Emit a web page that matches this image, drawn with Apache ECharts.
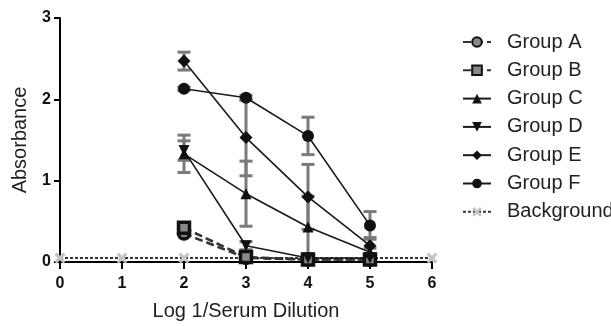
<!DOCTYPE html>
<html><head><meta charset="utf-8">
<script src="https://cdn.jsdelivr.net/npm/echarts@6/dist/echarts.min.js"></script>
<style>html,body{margin:0;padding:0;background:#fff}#c{width:611px;height:326px}</style>
</head><body><div id="c"></div>
<script>
const xTicks = [0, 1, 2, 3, 4, 5, 6];
const xGroups = [2, 3, 4, 5];
const groupA = [0.35, 0.05, 0.03, 0.03];
const groupB = [0.42, 0.06, 0.03, 0.03];
const groupC = [1.33, 0.84, 0.43, 0.12];
const groupD = [1.37, 0.20, 0.05, 0.05];
const groupE = [2.47, 1.53, 0.80, 0.20];
const groupF = [2.13, 2.02, 1.55, 0.45];
const errC = [0.23, 0.40, 0.38, 0.05];
const errD = [0.12, 0.05, 0.01, 0.01];
const errE = [0.11, 0.47, 0.40, 0.10];
const errF = [0.02, 0.03, 0.23, 0.17];
const background = [0.05, 0.05, 0.05, 0.05, 0.05, 0.05, 0.05];
const legendNames = ['Group A', 'Group B', 'Group C', 'Group D', 'Group E', 'Group F', 'Background'];

const pairs = (xs, ys) => xs.map((x, i) => [x, ys[i]]);
const errData = [];
[[groupC, errC], [groupD, errD], [groupE, errE], [groupF, errF]].forEach(([v, e]) => {
  xGroups.forEach((x, i) => errData.push([x, v[i] - e[i], v[i] + e[i]]));
});

const xPath = 'path://M2,0 L5,3 L8,0 L10,2 L7,5 L10,8 L8,10 L5,7 L2,10 L0,8 L3,5 L0,2 Z';

function lineSeries(name, data, symbol, opts) {
  return Object.assign({
    name, type: 'line', data: pairs(xGroups, data), symbol, symbolSize: 11,
    lineStyle: { color: '#1a1a1a', width: 1.6 },
    itemStyle: { color: '#111' }, z: 5
  }, opts || {});
}

const chart = echarts.init(document.getElementById('c'));
chart.setOption({
  animation: false,
  grid: { left: 60, right: 179, top: 18, bottom: 59, containLabel: false },
  xAxis: {
    type: 'value', min: 0, max: 6, interval: 1,
    name: 'Log 1/Serum Dilution', nameLocation: 'middle', nameGap: 39,
    nameTextStyle: { fontFamily: 'Liberation Sans', fontSize: 20, color: '#222' },
    axisLine: { lineStyle: { color: '#000', width: 2 } },
    axisTick: { show: true, length: 7, lineStyle: { color: '#000', width: 2 } },
    axisLabel: { fontFamily: 'Liberation Sans', fontSize: 16, fontWeight: 'bold', color: '#111', margin: 14 },
    splitLine: { show: false }
  },
  yAxis: {
    type: 'value', min: 0, max: 3, interval: 1,
    name: 'Absorbance', nameLocation: 'middle', nameGap: 30, nameRotate: 90,
    nameTextStyle: { fontFamily: 'Liberation Sans', fontSize: 20, color: '#222' },
    axisLine: { show: true, lineStyle: { color: '#000', width: 2 } },
    axisTick: { show: true, length: 6, lineStyle: { color: '#000', width: 2 } },
    axisLabel: { fontFamily: 'Liberation Sans', fontSize: 16, fontWeight: 'bold', color: '#111', margin: 9 },
    splitLine: { show: false }
  },
  legend: {
    orient: 'vertical', left: 457, top: 27, itemWidth: 28, itemHeight: 12, itemGap: 8.3,
    data: legendNames,
    textStyle: { fontFamily: 'Liberation Sans', fontSize: 20, color: '#222', lineHeight: 20, padding: [0, 0, 0, 11] }
  },
  series: [
    {
      name: 'err', type: 'custom', data: errData, z: 2, silent: true,
      renderItem: function (params, api) {
        const x = api.value(0);
        const lo = api.coord([x, api.value(1)]);
        const hi = api.coord([x, api.value(2)]);
        const w = 6.5;
        const st = { stroke: '#7a7a7a', lineWidth: 3 };
        return {
          type: 'group', children: [
            { type: 'line', shape: { x1: lo[0], y1: lo[1], x2: hi[0], y2: hi[1] }, style: st },
            { type: 'line', shape: { x1: lo[0] - w, y1: lo[1], x2: lo[0] + w, y2: lo[1] }, style: st },
            { type: 'line', shape: { x1: hi[0] - w, y1: hi[1], x2: hi[0] + w, y2: hi[1] }, style: st }
          ]
        };
      }
    },
    {
      name: 'Background', type: 'line', data: pairs(xTicks, background), symbol: xPath, symbolSize: 11,
      lineStyle: { color: '#333', width: 2, type: [3, 2] },
      itemStyle: { color: '#c4c4c4' }, z: 3
    },
    lineSeries('Group A', groupA, 'circle', {
      lineStyle: { color: '#333', width: 2.6, type: [8, 4] },
      itemStyle: { color: '#888', borderColor: '#111', borderWidth: 3.5 }
    }),
    lineSeries('Group B', groupB, 'rect', {
      lineStyle: { color: '#333', width: 2.6, type: [8, 4] },
      itemStyle: { color: '#888', borderColor: '#111', borderWidth: 3.5 }
    }),
    lineSeries('Group C', groupC, 'triangle'),
    lineSeries('Group D', groupD, 'path://M0,0 L10,0 L5,10 Z'),
    lineSeries('Group E', groupE, 'diamond', { symbolSize: 13 }),
    lineSeries('Group F', groupF, 'circle', { symbolSize: 12 })
  ]
});
</script></body></html>
